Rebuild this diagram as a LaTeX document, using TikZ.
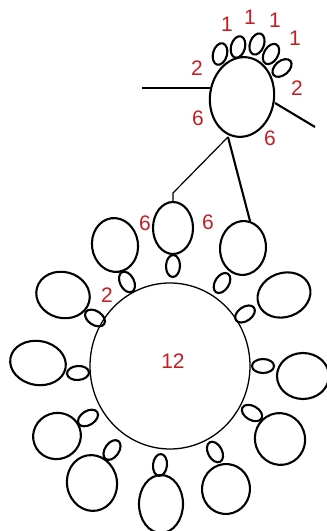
\documentclass[tikz,border=0pt]{standalone}
\usepackage{fontspec}
\setmainfont{Liberation Sans}
\definecolor{numred}{RGB}{195,30,35}
\begin{document}
\begin{tikzpicture}[x=1pt,y=1pt,
    blob/.style={line width=2.1pt},
    lbl/.style={text=numred,font=\fontsize{21}{21}\selectfont,inner sep=0pt}]
    \useasboundingbox (0,0) rectangle (327,531);
    % head and its small loops
    \coordinate (H) at (242,434);
    \coordinate (N) at (228,394);
    \coordinate (L) at (142,443);
    \coordinate (Lh) at (210,443);
    \coordinate (R) at (315,404);
    \coordinate (Rh) at (275,428);
    \draw[blob,rotate around={-8:(H)}] (H) ellipse[x radius=32,y radius=40];
    \foreach \x/\y/\r in {220/477/-15,238/484/-15,257/487/-20,271/477/-30,282/463/-50}
        \draw[blob,rotate around={\r:(\x,\y)}] (\x,\y) ellipse[x radius=7,y radius=11];
    \draw[blob] (L)--(Lh);
    \draw[blob] (Rh)--(R);
    % ring
    \coordinate (C) at (170,165);
    \draw[line width=1.3pt] (C) ellipse[x radius=80,y radius=83];
    \foreach \bx/\by/\brx/\bry/\brot/\sx/\sy/\sa in {
        173/303/20/26/0/173/265/88,
        115/286/23/27/8/127/249/117,
        63/236/27/23/-15/95/213/147,
        38/168/28/22/-10/78/158/184,
        57/95/24/23/20/88/113/212,
        92/48/25/28/10/112/81/235,
        161/27/22/29/0/160/66/264,
        226/42/24/25/-5/215/79/298,
        280/92/25/26/20/252/118/330,
        303/155/26/23/0/263/165/0,
        284/236/27/22/20/245/217/35,
        243/283/23/27/-5/222/248/58}{
        \draw[blob,rotate around={\brot:(\bx,\by)}] (\bx,\by) ellipse[x radius=\brx,y radius=\bry];
        \draw[blob,rotate around={\sa:(\sx,\sy)}] (\sx,\sy) ellipse[x radius=11,y radius=7];
    }
    \coordinate (T) at (173,329);
    \coordinate (Tk) at (173,338);
    \coordinate (U) at (250,310);
    \draw[line width=1.2pt] (N)--(Tk)--(T);
    \draw[blob] (N)--(U);
    % numbers
    \node[lbl] (o1) at (227,507) {1};
    \node[lbl] (o2) at (250,514) {1};
    \node[lbl] (o3) at (275,511) {1};
    \node[lbl] (o4) at (295,493) {1};
    \node[lbl] (t1) at (197,463) {2};
    \node[lbl] (t2) at (297,443) {2};
    \node[lbl] (s1) at (198,413) {6};
    \node[lbl] (s2) at (270,393) {6};
    \node[lbl] (s3) at (145,308) {6};
    \node[lbl] (s4) at (208,309) {6};
    \node[lbl] (t3) at (107,236) {2};
    \node[lbl] (tw) at (173,170) {12};
\end{tikzpicture}
\end{document}
